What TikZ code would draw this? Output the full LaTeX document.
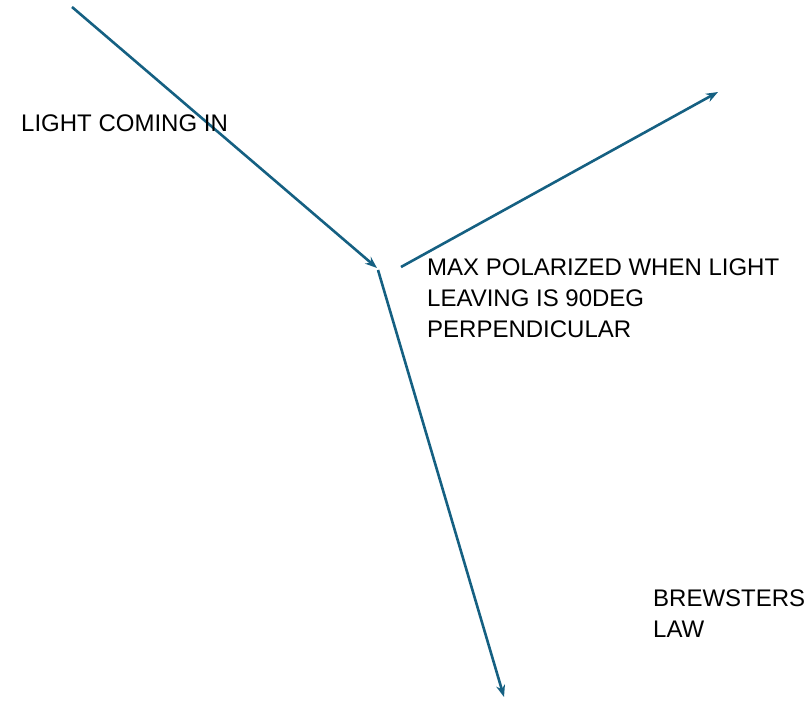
\documentclass[tikz,border=0pt]{standalone}
\usepackage{fontspec}
\setmainfont{Liberation Sans}
\usepackage{tikz}
\usetikzlibrary{arrows.meta}

\definecolor{rayblue}{RGB}{21,96,130}

\begin{document}
\begin{tikzpicture}[x=1pt,y=-1pt]
    \tikzset{ray/.style={line width=2.6pt,-{Stealth[length=12pt,width=9pt]},draw=rayblue}}
    \tikzstyle{note}=[
      anchor=north west,
      inner sep=0pt,
      align=left,
      font=\fontsize{24}{31}\selectfont,
    ]

    \useasboundingbox (0,0) rectangle (807,703);

    \coordinate (hitAnchor) at (377,268);

    % rays
    {
      \coordinate (inStart) at ([xshift=-305pt, yshift=261pt] hitAnchor);
      \coordinate (outStart) at ([xshift=1pt, yshift=-2pt] hitAnchor);
      \coordinate (refStart) at ([xshift=24pt, yshift=1pt] hitAnchor);
      \coordinate (refEnd) at ([xshift=341pt, yshift=176pt] hitAnchor);
      \coordinate (outEnd) at ([xshift=127pt, yshift=-429pt] hitAnchor);

      \draw[ray] (inStart)--(hitAnchor);
      \draw[ray] (refStart)--(refEnd);
      \draw[ray] (outStart)--(outEnd);
    }

    % texts
    {
      \node[note] (lightIn) at (21,115) {LIGHT COMING IN};
      \node[note] (maxPol) at (427,259) {MAX POLARIZED WHEN LIGHT\\LEAVING IS 90DEG\\PERPENDICULAR};
      \node[note] (brewster) at (653,590) {BREWSTERS\\LAW};
    }
\end{tikzpicture}
\end{document}
